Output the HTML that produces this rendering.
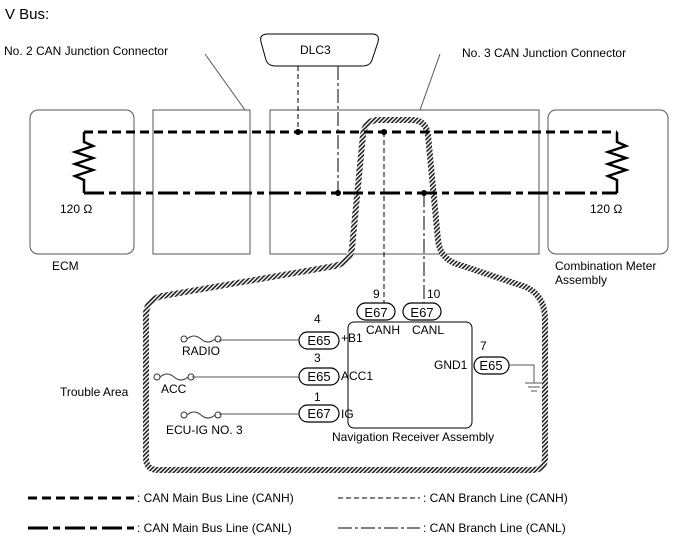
<!DOCTYPE html>
<html><head><meta charset="utf-8"><style>body{margin:0;background:#fff}svg{display:block;font-family:"Liberation Sans",sans-serif}</style></head><body>
<svg width="688" height="560" viewBox="0 0 688 560">
<defs><pattern id="h" width="3" height="3" patternUnits="userSpaceOnUse" patternTransform="rotate(45)"><rect width="3" height="3" fill="#fff"/><rect width="1.6" height="3" fill="#222"/></pattern></defs>
<text x="5" y="19" font-size="15">V Bus:</text>
<g fill="none" stroke="#555" stroke-width="1">
<rect x="30" y="110" width="104" height="144" rx="8"/>
<rect x="153" y="110" width="97" height="144"/>
<rect x="270" y="110" width="269" height="144"/>
<rect x="548" y="110" width="120" height="144" rx="8"/>
<line x1="205" y1="54" x2="245" y2="110"/>
<line x1="440" y1="54" x2="420" y2="110"/>
<path d="M268 34 H372 Q380 34 378 42 L372 60 Q370 66 362 66 H276 Q268 66 266 60 L261 42 Q259 34 268 34Z" stroke="#000"/>
</g>
<text x="4" y="55" font-size="12">No. 2 CAN Junction Connector</text>
<text x="462" y="57" font-size="12">No. 3 CAN Junction Connector</text>
<text x="300" y="54" font-size="12">DLC3</text>
<text x="52" y="270" font-size="12">ECM</text>
<text x="555" y="270" font-size="12">Combination Meter</text>
<text x="555" y="284" font-size="12">Assembly</text>
<text x="60" y="213" font-size="12">120 Ω</text>
<text x="590" y="213" font-size="12">120 Ω</text>
<path d="M378 120 H412 Q426 120 428 135 L438 240 Q440 260 460 265 L520 285 Q545 292 545 320 V458 Q545 470 532 470 H158 Q146 470 146 458 V315 Q146 300 162 296 L335 266 Q350 262 352 248 L363 135 Q365 120 378 120Z" fill="none" stroke="url(#h)" stroke-width="6"/>
<g stroke="#000" fill="none">
<path d="M84 132 H617" stroke-width="3" stroke-dasharray="9,5"/>
<path d="M84 193 H617" stroke-width="3" stroke-dasharray="20,5,7,5"/>
<path d="M84 132 V142 L93 146 L75 152 L93 158 L75 164 L93 170 L75 176 L84 180 V193" stroke-width="2.5"/>
<path d="M617 132 V142 L626 146 L608 152 L626 158 L608 164 L626 170 L608 176 L617 180 V193" stroke-width="2.5"/>
<line x1="298" y1="66" x2="298" y2="132" stroke-dasharray="5,3"/>
<line x1="338" y1="66" x2="338" y2="193" stroke-dasharray="14,3,3,3"/>
<line x1="384" y1="132" x2="384" y2="303" stroke-dasharray="5,3"/>
<line x1="424" y1="193" x2="424" y2="303" stroke-dasharray="14,3,3,3"/>
<rect x="348" y="322" width="124" height="106" rx="6"/>
</g>
<g fill="#000"><circle cx="298" cy="132" r="3"/><circle cx="384" cy="132" r="3"/><circle cx="338" cy="193" r="3"/><circle cx="424" cy="193" r="3"/></g>
<g stroke="#000" fill="#fff" stroke-width="1.2">
<rect x="357" y="303" width="38" height="17" rx="8.5"/>
<rect x="403" y="303" width="38" height="17" rx="8.5"/>
<rect x="299" y="332" width="40" height="17" rx="8.5"/>
<rect x="299" y="368" width="40" height="17" rx="8.5"/>
<rect x="299" y="405" width="40" height="17" rx="8.5"/>
<rect x="474" y="357" width="35" height="17" rx="8.5"/>
</g>
<g stroke="#555" fill="none">
<line x1="219" y1="340" x2="299" y2="340"/>
<line x1="192" y1="377" x2="299" y2="377"/>
<line x1="219" y1="414" x2="299" y2="414"/>
<path d="M509 365 H534 V383"/>
<path d="M525 383 H543 M528 387 H540 M531 391 H537"/>
<g stroke="#333"><circle cx="184" cy="339" r="3"/><circle cx="218" cy="339" r="3"/><path d="M187 339 Q194 333 201 339 Q208 345 215 339"/>
<circle cx="157" cy="377" r="3"/><circle cx="191" cy="377" r="3"/><path d="M160 377 Q167 371 174 377 Q181 383 188 377"/>
<circle cx="184" cy="415" r="3"/><circle cx="218" cy="415" r="3"/><path d="M187 415 Q194 409 201 415 Q208 421 215 415"/></g>
</g>
<g font-size="13" text-anchor="middle">
<text x="376" y="317">E67</text><text x="422" y="317">E67</text>
<text x="319" y="345">E65</text><text x="319" y="381">E65</text><text x="319" y="418">E67</text>
<text x="491" y="370">E65</text>
</g>
<g font-size="12">
<text x="373" y="298">9</text><text x="427" y="298">10</text>
<text x="314" y="323">4</text><text x="314" y="362">3</text><text x="314" y="401">1</text><text x="480" y="350">7</text>
<text x="366" y="334">CANH</text><text x="412" y="334">CANL</text>
<text x="341" y="342">+B1</text><text x="341" y="380">ACC1</text><text x="341" y="418">IG</text>
<text x="434" y="369">GND1</text>
<text x="182" y="355">RADIO</text><text x="161" y="393">ACC</text><text x="166" y="434">ECU-IG NO. 3</text>
<text x="332" y="441">Navigation Receiver Assembly</text>
<text x="60" y="396">Trouble Area</text>
<text x="137" y="502">: CAN Main Bus Line (CANH)</text>
<text x="137" y="532">: CAN Main Bus Line (CANL)</text>
<text x="423" y="502">: CAN Branch Line (CANH)</text>
<text x="423" y="532">: CAN Branch Line (CANL)</text>
</g>
<g stroke="#000">
<line x1="28" y1="498" x2="134" y2="498" stroke-width="3" stroke-dasharray="9,5"/>
<line x1="28" y1="528" x2="134" y2="528" stroke-width="3" stroke-dasharray="20,5,7,5"/>
<line x1="338" y1="498" x2="420" y2="498" stroke-dasharray="5,3"/>
<line x1="338" y1="528" x2="420" y2="528" stroke-dasharray="14,3,3,3"/>
</g>
</svg>
</body></html>
